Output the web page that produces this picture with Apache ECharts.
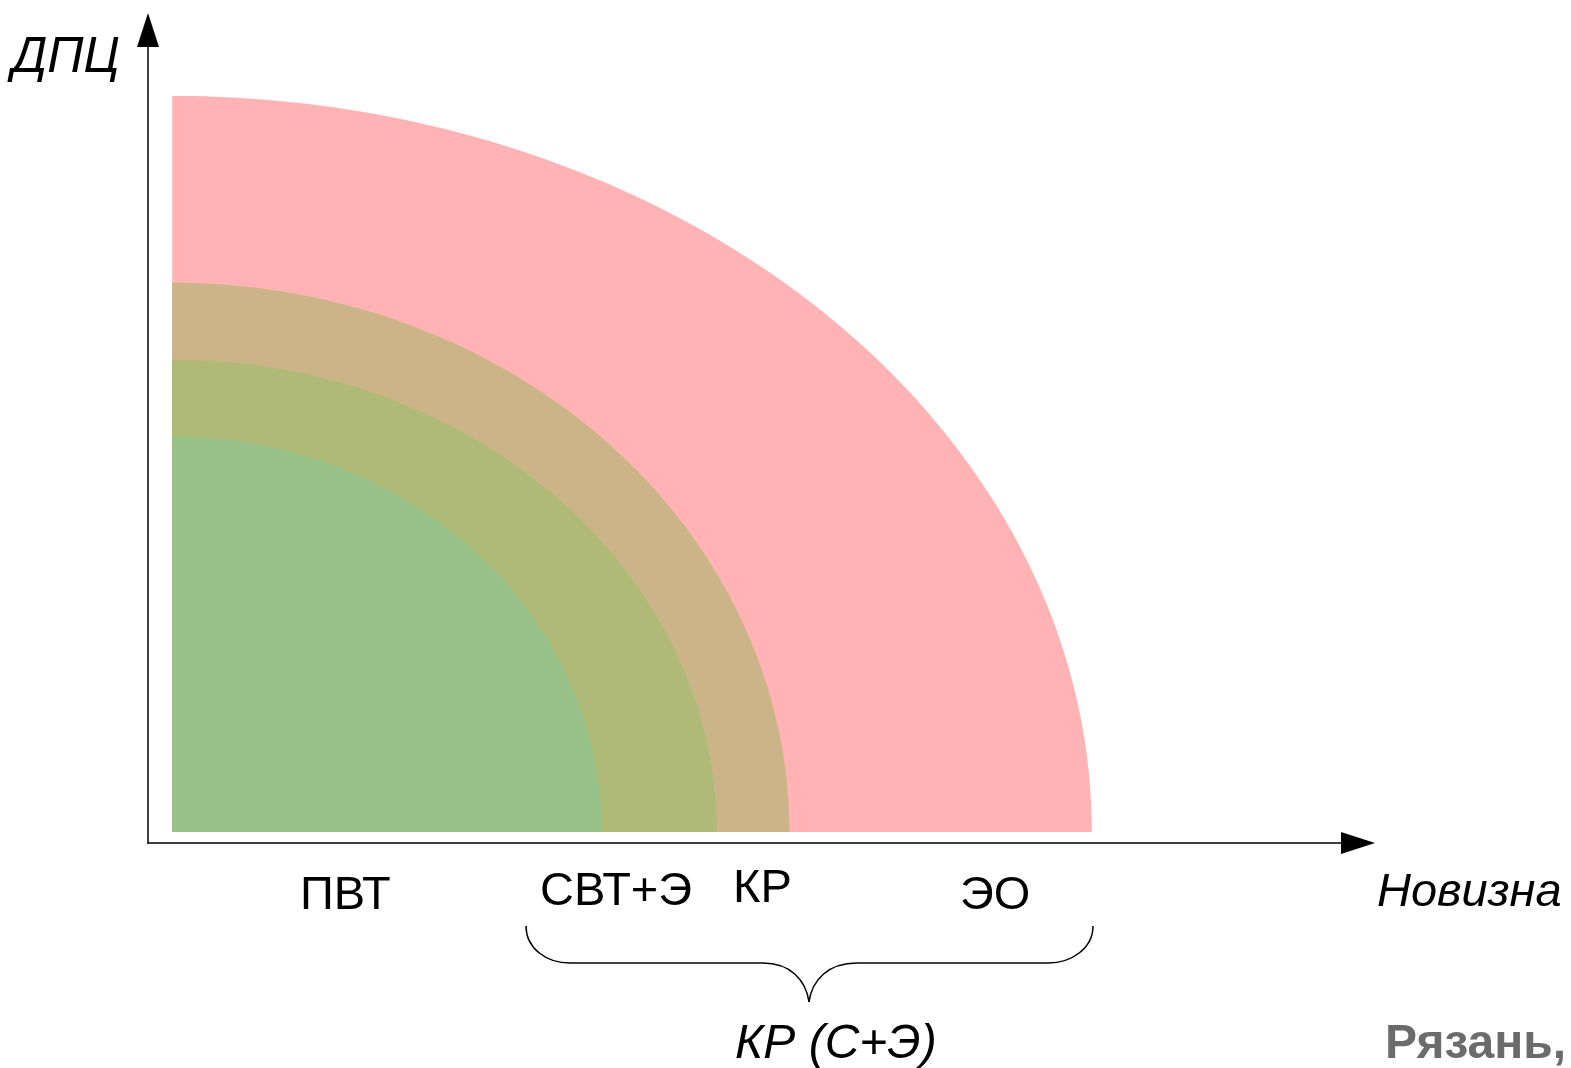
<!DOCTYPE html>
<html>
<head>
<meta charset="utf-8">
<script src="https://cdn.jsdelivr.net/npm/echarts@6/dist/echarts.min.js"></script>
<style>
  html, body { margin: 0; padding: 0; background: #fff; }
  #main { width: 1571px; height: 1068px; }
</style>
</head>
<body>
<div id="main"></div>
<script>
// зоны: полуоси четверти эллипса (Новизна, ДПЦ)
var zoneNames = ['ЭО', 'КР', 'СВТ+Э', 'ПВТ'];
var zoneNovelty = [76, 51, 45, 35.5];
var zoneDpc = [67, 50, 43, 36];
var zoneColors = ['#FFB3B4', '#CBB588', '#AFBA77', '#97C189'];

var chart = echarts.init(document.getElementById('main'));

var zoneData = [];
for (var i = 0; i < zoneNames.length; i++) {
  zoneData.push({ name: zoneNames[i], value: [zoneNovelty[i], zoneDpc[i]] });
}

function renderZone(params, api) {
  var rx = api.value(0), ry = api.value(1);
  var pts = [api.coord([0, 0])];
  for (var k = 0; k <= 90; k++) {
    var a = k * Math.PI / 180;
    pts.push(api.coord([rx * Math.cos(a), ry * Math.sin(a)]));
  }
  return {
    type: 'polygon',
    shape: { points: pts },
    style: { fill: zoneColors[params.dataIndex] }
  };
}

var font = '"Liberation Sans", Arial, sans-serif';
function txt(text, x, y, opt) {
  opt = opt || {};
  var size = opt.size || 47;
  return {
    type: 'text', left: x, top: y - (opt.dy || 19),
    style: {
      text: text, fill: opt.fill || '#000', fontSize: size,
      fontFamily: font, fontStyle: opt.italic ? 'italic' : 'normal',
      fontWeight: opt.bold ? 'bold' : 'normal'
    }
  };
}
var braceStyle = { fill: null, stroke: '#000', lineWidth: 1.5 };
function curve(x1, y1, c1x, c1y, c2x, c2y, x2, y2) {
  return { type: 'bezierCurve', shape: { x1: x1, y1: y1, cpx1: c1x, cpy1: c1y, cpx2: c2x, cpy2: c2y, x2: x2, y2: y2 }, style: braceStyle };
}
function seg(x1, y1, x2, y2) {
  return { type: 'line', shape: { x1: x1, y1: y1, x2: x2, y2: y2 }, style: braceStyle };
}

option = {
  animation: false,
  grid: { left: 148, right: 213, top: 30, bottom: 225 },
  xAxis: {
    type: 'value', min: -2, max: 98,
    axisLine: { show: true, onZero: false, symbol: ['none', 'triangle'], symbolSize: [22, 34], lineStyle: { color: '#000', width: 1.5 } },
    axisTick: { show: false }, axisLabel: { show: false }, splitLine: { show: false }
  },
  yAxis: {
    type: 'value', min: -1, max: 73,
    axisLine: { show: true, onZero: false, symbol: ['none', 'triangle'], symbolSize: [22, 34], lineStyle: { color: '#000', width: 1.5 } },
    axisTick: { show: false }, axisLabel: { show: false }, splitLine: { show: false }
  },
  series: [{
    type: 'custom',
    renderItem: renderZone,
    data: zoneData,
    silent: true
  }],
  graphic: [
    txt('ДПЦ', 12, 59, { italic: true, size: 50, dy: 26 }),
    txt('ПВТ', 300, 892),
    txt('СВТ+Э', 540, 888),
    txt('КР', 733, 885),
    txt('ЭО', 960, 892),
    txt('Новизна', 1377, 888, { italic: true }),
    txt('КР (С+Э)', 735, 1040, { italic: true, size: 48 }),
    txt('Рязань,', 1385, 1040, { bold: true, fill: '#6b6b6b', size: 48 }),
    // фигурная скобка
    curve(526, 926, 526, 948, 546, 963, 570, 963),
    seg(570, 963, 763, 963),
    curve(763, 963, 790, 963, 806, 980, 809, 1002),
    curve(809, 1002, 812, 980, 828, 963, 857, 963),
    seg(857, 963, 1048, 963),
    curve(1048, 963, 1072, 963, 1093, 948, 1093, 926)
  ]
};

chart.setOption(option);
</script>
</body>
</html>
